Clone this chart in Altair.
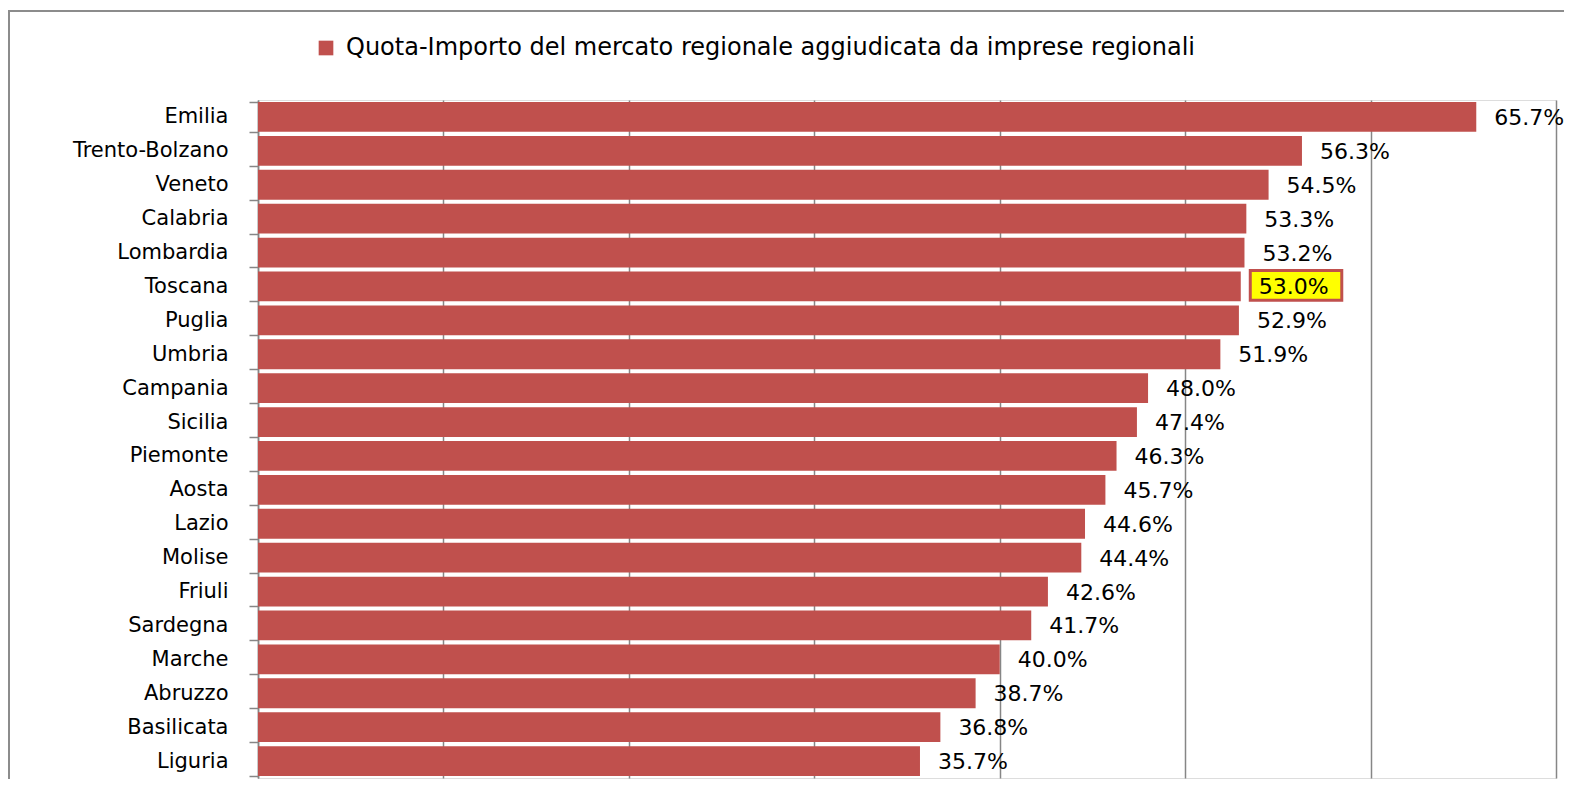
import altair as alt
import pandas as pd

regions = ["Emilia", "Trento-Bolzano", "Veneto", "Calabria", "Lombardia", "Toscana",
           "Puglia", "Umbria", "Campania", "Sicilia", "Piemonte", "Aosta", "Lazio",
           "Molise", "Friuli", "Sardegna", "Marche", "Abruzzo", "Basilicata", "Liguria"]
values = [65.7, 56.3, 54.5, 53.3, 53.2, 53.0, 52.9, 51.9, 48.0, 47.4, 46.3, 45.7,
          44.6, 44.4, 42.6, 41.7, 40.0, 38.7, 36.8, 35.7]
series_name = "Quota-Importo del mercato regionale aggiudicata da imprese regionali"
highlight = "Toscana"

df = pd.DataFrame({"region": regions, "value": values, "series": series_name})
df["label"] = [f"{v:.1f}%" for v in values]

BAR = "#C0504D"
GRID = "#868686"

y_enc = alt.Y("region:N", sort=regions,
              scale=alt.Scale(paddingInner=0.12, paddingOuter=0.06),
              axis=alt.Axis(title=None, tickBand="extent", tickSize=9, tickColor=GRID,
                            tickWidth=1.5, domainColor=GRID, domainWidth=1.5,
                            labelFont="DejaVu Sans", labelFontSize=21, labelColor="#000000",
                            labelPadding=21, labelLimit=300, grid=False))
x_scale = alt.Scale(domain=[0, 70], nice=False, zero=True)

bars = alt.Chart(df).mark_bar(strokeWidth=0).encode(
    x=alt.X("value:Q", scale=x_scale,
            axis=alt.Axis(title=None, labels=False, ticks=False, domain=False,
                          grid=True, gridColor=GRID, gridWidth=1.5,
                          values=[0, 10, 20, 30, 40, 50, 60, 70])),
    y=y_enc,
    color=alt.Color("series:N", scale=alt.Scale(range=[BAR]),
                    legend=alt.Legend(title=None, orient="none", legendX=56, legendY=-64,
                                      symbolType="square", symbolSize=215,
                                      symbolStrokeWidth=0, labelFont="DejaVu Sans",
                                      labelFontSize=24, labelColor="#000000",
                                      labelLimit=1200, labelOffset=8, padding=0)),
)

box = alt.Chart(df).transform_filter(
    alt.datum.region == highlight
).mark_rect(fill="#FFFF00", stroke=BAR, strokeWidth=3, xOffset=9.5, x2Offset=101,
            yOffset=-1, y2Offset=1).encode(
    x=alt.X("value:Q", scale=x_scale),
    x2="value:Q",
    y=alt.Y("region:N", sort=regions),
)

labels = alt.Chart(df).mark_text(align="left", baseline="middle", dx=18, dy=1,
                                 font="DejaVu Sans", fontSize=22, color="#000000").encode(
    x=alt.X("value:Q", scale=x_scale),
    y=alt.Y("region:N", sort=regions),
    text="label:N",
)

frame_top = alt.Chart(df).mark_rule(color="#8c8c8c", strokeWidth=1.5).encode(
    x=alt.value(-250),
    x2=alt.value(1320),
    y=alt.value(-89),
)
frame_left = alt.Chart(df).mark_rule(color="#8c8c8c", strokeWidth=1.5).encode(
    x=alt.value(-249),
    y=alt.value(-90),
    y2=alt.value(720),
)

chart = alt.layer(frame_top, frame_left, bars, box, labels).properties(
    width=1298, height=678,
    autosize=alt.AutoSizeParams(type="none"),
    padding={"left": 250, "top": 92, "right": 8, "bottom": 1},
).configure_view(stroke="transparent", strokeWidth=0).configure(background="white")

chart.save("out.html", embed_options={"renderer": "svg", "actions": False})
